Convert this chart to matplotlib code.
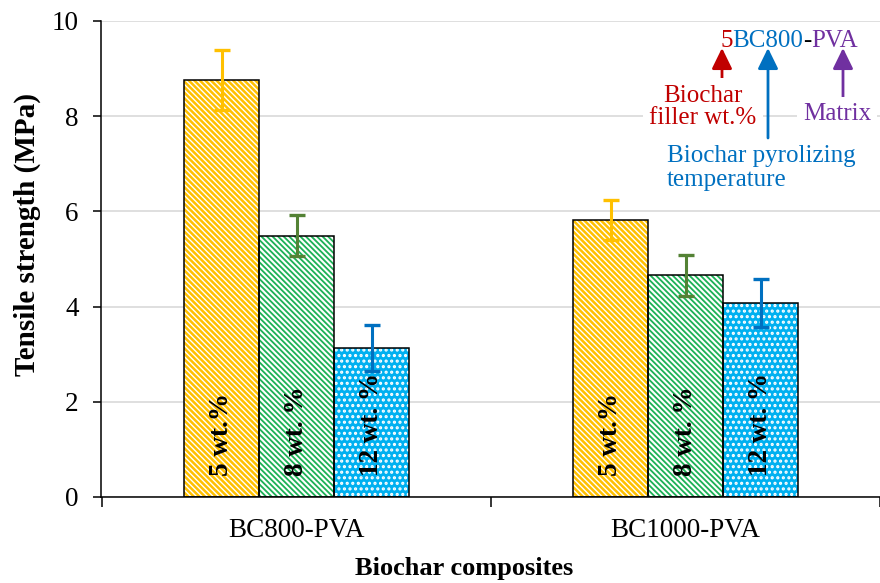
import matplotlib
matplotlib.use("Agg")
import matplotlib.pyplot as plt
import numpy as np

# ---- data ----
categories = ["BC800-PVA", "BC1000-PVA"]
series_labels = ["5 wt.%", "8 wt. %", "12 wt. %"]
values_5 = [8.76, 5.82]
values_8 = [5.49, 4.66]
values_12 = [3.13, 4.08]
err_5 = [0.63, 0.42]
err_8 = [0.43, 0.43]
err_12 = [0.49, 0.50]
yticks = [0, 2, 4, 6, 8, 10]

plt.rcParams['font.family'] = ['Liberation Serif', 'DejaVu Serif']

W, H = 880, 583
fig = plt.figure(figsize=(W / 100, H / 100), dpi=100)

def fx(px):
    return px / W

def fy(py):
    return (H - py) / H

ax_left, ax_right, ax_top, ax_bottom = 101, 880, 21, 497
ax = fig.add_axes([fx(ax_left), fy(ax_bottom), (ax_right - ax_left) / W, (ax_bottom - ax_top) / H])

unit = 392.0
c0 = 298.5
xlim = ((ax_left - c0) / unit, (ax_right - c0) / unit)
ax.set_xlim(*xlim)
ax.set_ylim(0, 10)

x = np.arange(len(categories))
bw = 0.193
offsets = [-bw, 0.0, bw]

series = [
    (values_5, err_5, '#FFC000', '\\' * 6, 1.0, '#FFC000'),
    (values_8, err_8, '#1DB257', '\\' * 6, 1.5, '#548235'),
    (values_12, err_12, '#00B0F0', '...', 1.5, '#0070C0'),
]

for (vals, errs, fc, hatch, hlw, ecol), off, lab in zip(series, offsets, series_labels):
    with plt.rc_context({'hatch.linewidth': hlw, 'hatch.color': 'white'}):
        ax.bar(x + off, vals, width=bw, color=fc, edgecolor='white', hatch=hatch,
               linewidth=0, zorder=2)
    ax.bar(x + off, vals, width=bw, facecolor='none', edgecolor='black',
           linewidth=1.1, zorder=3)
    ax.errorbar(x + off, vals, yerr=errs, fmt='none', ecolor=ecol, elinewidth=2.2,
                capsize=6, capthick=2.4, zorder=4)
    for xi in x:
        ax.text(xi + off, 0.45, lab, rotation=90, ha='center', va='bottom',
                fontsize=19.5, fontweight='bold', color='black', zorder=5)

ax.set_yticks(yticks)
ax.yaxis.grid(True, color='#D9D9D9', linewidth=1.2, zorder=0)
ax.set_axisbelow(True)
for s in ['top', 'right']:
    ax.spines[s].set_visible(False)
ax.spines['left'].set_linewidth(1.1)
ax.spines['bottom'].set_linewidth(1.1)

ax.set_xticks(x)
ax.set_xticklabels(categories)
ax.set_xticks([-0.5, 0.5, 1.5], minor=True)
ax.tick_params(axis='x', which='major', length=0, pad=15, labelsize=19.5)
ax.tick_params(axis='x', which='minor', length=7, width=1.1, direction='out')
ax.tick_params(axis='y', length=6, width=1.1, direction='out', pad=10, labelsize=19.5)

fig.text(fx(27), fy(235), "Tensile strength (MPa)", rotation=90, ha='center', va='center',
         fontsize=21, fontweight='bold')
fig.text(fx(464), fy(568), "Biochar composites", ha='center', va='center',
         fontsize=19, fontweight='bold')

# ---- annotation ----
red, blue, purple = '#C00000', '#0070C0', '#7030A0'
fs_a = 18
pieces = [("5", red), ("BC800", blue), ("-", 'black'), ("PVA", purple)]
fig.canvas.draw()
renderer = fig.canvas.get_renderer()
xpos = 720
for s, col in pieces:
    t = fig.text(fx(xpos), fy(47), s, color=col, fontsize=fs_a, ha='left', va='baseline')
    bb = t.get_window_extent(renderer=renderer)
    xpos += bb.width

box = dict(boxstyle='square,pad=0.25', facecolor='white', edgecolor='none')
fig.text(fx(703), fy(107), "Biochar\nfiller wt.%", color=red, fontsize=fs_a, ha='center',
         va='center', linespacing=1.05, bbox=box)
fig.text(fx(837), fy(114), "Matrix", color=purple, fontsize=fs_a, ha='center', va='center',
         bbox=box)
fig.text(fx(667), fy(168), "Biochar pyrolizing\ntemperature", color=blue, fontsize=fs_a,
         ha='left', va='center', linespacing=1.1)

arrow_style = '-|>,head_length=0.45,head_width=0.22'
for xa, ytail, col in [(722, 80, red), (768, 138, blue), (843, 98, purple)]:
    fig.add_artist(matplotlib.patches.FancyArrowPatch(
        (fx(xa), fy(ytail)), (fx(xa), fy(48)), transform=fig.transFigure,
        arrowstyle=arrow_style, mutation_scale=28, color=col, linewidth=2,
        shrinkA=0, shrinkB=0))

fig.savefig("out.png", dpi=100)
